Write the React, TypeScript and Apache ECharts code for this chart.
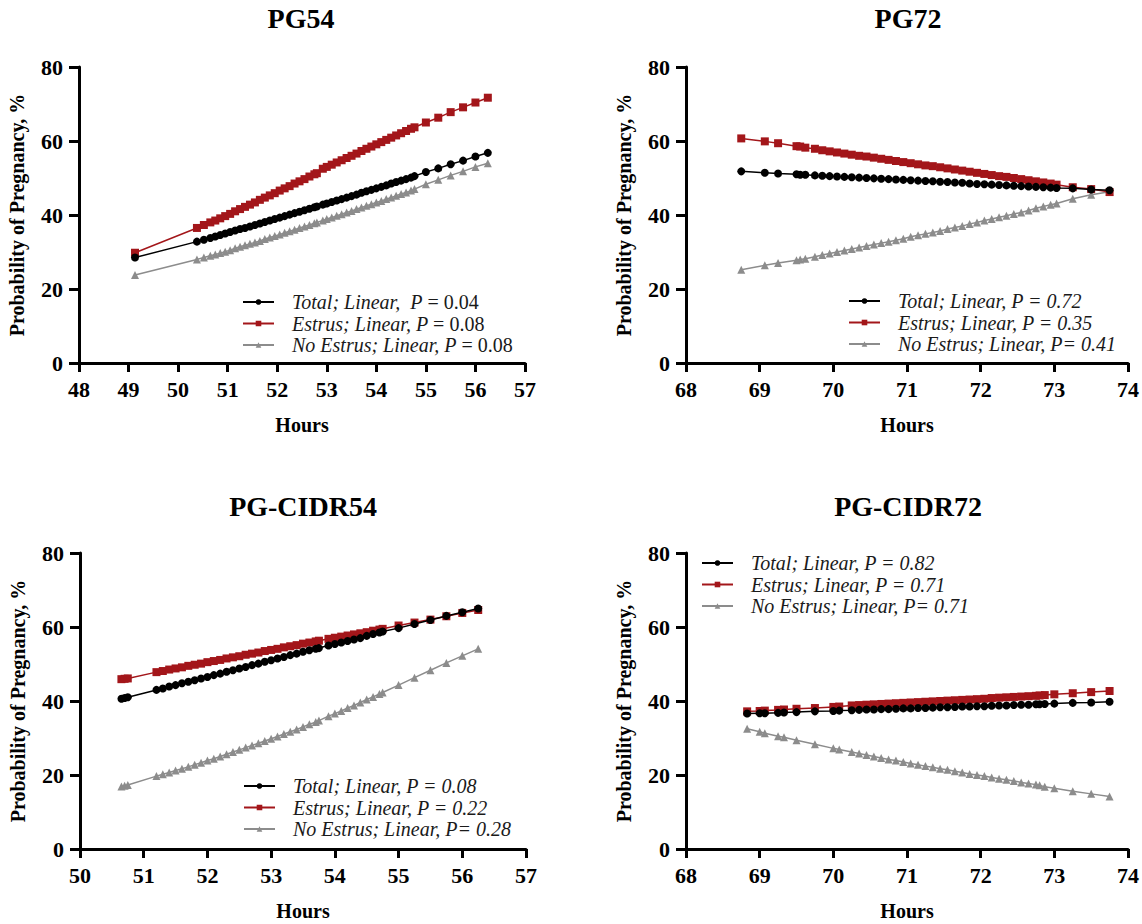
import React, { useEffect, useRef } from "react";
import * as echarts from "echarts";

// ---------- DATA ----------
const panelTitles = ["PG54", "PG72", "PG-CIDR54", "PG-CIDR72"];
const xRanges = [[48, 57], [68, 74], [50, 57], [68, 74]];
const yTicks = [0, 20, 40, 60, 80];

// PG54
const hoursPG54 = [49.13, 50.38, 50.52, 50.65, 50.75, 50.85, 50.95, 51.05, 51.15, 51.25, 51.35, 51.45, 51.55, 51.65, 51.75, 51.85, 51.95, 52.05, 52.15, 52.25, 52.35, 52.45, 52.55, 52.65, 52.75, 52.8, 52.92, 53.0, 53.1, 53.2, 53.3, 53.4, 53.5, 53.6, 53.7, 53.8, 53.9, 54.0, 54.1, 54.2, 54.3, 54.4, 54.5, 54.6, 54.7, 54.77, 55.0, 55.25, 55.5, 55.75, 56.0, 56.25];
const totalPG54 = [28.5, 32.8, 33.3, 33.8, 34.2, 34.6, 35.0, 35.4, 35.8, 36.2, 36.5, 36.9, 37.3, 37.7, 38.1, 38.5, 38.9, 39.3, 39.7, 40.1, 40.5, 40.9, 41.3, 41.7, 42.1, 42.3, 42.8, 43.1, 43.5, 43.9, 44.3, 44.7, 45.1, 45.5, 46.0, 46.4, 46.8, 47.2, 47.6, 48.0, 48.5, 48.9, 49.3, 49.7, 50.1, 50.5, 51.6, 52.6, 53.7, 54.7, 55.8, 56.8];
const estrusPG54 = [29.8, 36.5, 37.3, 38.0, 38.5, 39.1, 39.7, 40.3, 41.0, 41.6, 42.2, 42.8, 43.4, 44.1, 44.7, 45.3, 45.9, 46.6, 47.2, 47.8, 48.5, 49.1, 49.7, 50.4, 51.0, 51.3, 52.5, 53.0, 53.6, 54.2, 54.8, 55.4, 56.0, 56.6, 57.3, 57.9, 58.5, 59.1, 59.7, 60.3, 60.9, 61.5, 62.1, 62.7, 63.3, 63.7, 65.0, 66.3, 67.8, 69.1, 70.4, 71.7];
const noEstrusPG54 = [23.8, 28.0, 28.5, 29.0, 29.3, 29.7, 30.1, 30.5, 31.0, 31.4, 31.8, 32.2, 32.6, 33.0, 33.5, 33.9, 34.3, 34.7, 35.2, 35.6, 36.0, 36.5, 36.9, 37.3, 37.8, 38.0, 38.5, 38.9, 39.3, 39.8, 40.2, 40.7, 41.1, 41.6, 42.0, 42.5, 42.9, 43.4, 43.8, 44.3, 44.7, 45.2, 45.7, 46.1, 46.6, 47.0, 48.3, 49.5, 50.7, 51.8, 53.0, 54.0];

// PG72
const hoursPG72 = [68.75, 69.07, 69.25, 69.5, 69.55, 69.62, 69.75, 69.85, 69.95, 70.05, 70.15, 70.25, 70.35, 70.45, 70.55, 70.65, 70.75, 70.85, 70.95, 71.05, 71.15, 71.25, 71.35, 71.45, 71.55, 71.65, 71.75, 71.85, 71.95, 72.05, 72.15, 72.25, 72.35, 72.45, 72.55, 72.65, 72.75, 72.85, 72.95, 73.03, 73.25, 73.5, 73.75];
const totalPG72 = [51.8, 51.4, 51.2, 51.0, 50.9, 50.9, 50.7, 50.6, 50.5, 50.4, 50.3, 50.2, 50.1, 50.0, 49.9, 49.8, 49.7, 49.6, 49.5, 49.4, 49.3, 49.2, 49.1, 49.0, 48.9, 48.8, 48.7, 48.5, 48.4, 48.3, 48.2, 48.1, 48.0, 47.9, 47.8, 47.7, 47.6, 47.5, 47.4, 47.3, 47.2, 46.9, 46.7];
const estrusPG72 = [60.7, 59.9, 59.4, 58.6, 58.5, 58.2, 57.9, 57.5, 57.2, 56.9, 56.6, 56.3, 56.0, 55.8, 55.5, 55.2, 54.9, 54.6, 54.3, 54.0, 53.7, 53.4, 53.2, 52.9, 52.6, 52.3, 52.0, 51.7, 51.4, 51.1, 50.8, 50.5, 50.3, 50.0, 49.7, 49.4, 49.1, 48.8, 48.5, 48.2, 47.5, 47.0, 46.2];
const noEstrusPG72 = [25.2, 26.4, 27.0, 27.8, 28.0, 28.2, 28.7, 29.2, 29.6, 30.0, 30.4, 30.8, 31.2, 31.6, 32.0, 32.4, 32.8, 33.2, 33.6, 34.1, 34.5, 34.9, 35.3, 35.7, 36.2, 36.6, 37.0, 37.6, 38.0, 38.5, 38.9, 39.4, 39.8, 40.3, 40.7, 41.2, 41.8, 42.3, 42.8, 43.1, 44.4, 45.5, 46.3];

// PG-CIDR54
const hoursCIDR54 = [50.65, 50.7, 50.75, 51.2, 51.3, 51.4, 51.5, 51.6, 51.7, 51.8, 51.9, 52.0, 52.1, 52.2, 52.3, 52.4, 52.5, 52.6, 52.7, 52.8, 52.9, 53.0, 53.1, 53.2, 53.3, 53.4, 53.5, 53.6, 53.7, 53.75, 53.9, 54.0, 54.1, 54.2, 54.3, 54.4, 54.5, 54.6, 54.7, 54.75, 55.0, 55.25, 55.5, 55.75, 56.0, 56.25];
const totalCIDR54 = [40.6, 40.8, 41.0, 43.0, 43.4, 43.9, 44.3, 44.8, 45.2, 45.6, 46.1, 46.5, 47.0, 47.4, 47.9, 48.3, 48.8, 49.2, 49.7, 50.1, 50.6, 51.0, 51.5, 51.9, 52.4, 52.8, 53.3, 53.7, 54.1, 54.3, 55.0, 55.4, 55.8, 56.2, 56.6, 57.0, 57.6, 58.1, 58.5, 58.8, 59.7, 60.8, 61.9, 63.0, 64.0, 65.0];
const estrusCIDR54 = [45.9, 46.0, 46.1, 47.8, 48.1, 48.5, 48.8, 49.1, 49.5, 49.8, 50.1, 50.5, 50.8, 51.1, 51.5, 51.8, 52.1, 52.5, 52.8, 53.1, 53.5, 53.8, 54.1, 54.5, 54.8, 55.1, 55.5, 55.8, 56.1, 56.3, 56.8, 57.1, 57.4, 57.7, 58.0, 58.3, 58.6, 59.0, 59.3, 59.5, 60.4, 61.2, 62.0, 62.9, 63.8, 64.6];
const noEstrusCIDR54 = [16.9, 17.1, 17.3, 19.7, 20.2, 20.7, 21.2, 21.7, 22.2, 22.8, 23.3, 23.9, 24.4, 25.0, 25.6, 26.2, 26.8, 27.4, 28.0, 28.6, 29.2, 29.8, 30.4, 31.1, 31.7, 32.3, 33.0, 33.7, 34.3, 34.7, 35.9, 36.6, 37.3, 38.1, 38.8, 39.6, 40.4, 41.1, 41.9, 42.3, 44.3, 46.3, 48.3, 50.3, 52.2, 54.1];

// PG-CIDR72
const hoursCIDR72 = [68.83, 69.0, 69.07, 69.25, 69.33, 69.5, 69.75, 70.0, 70.08, 70.25, 70.35, 70.45, 70.55, 70.65, 70.75, 70.85, 70.95, 71.05, 71.15, 71.25, 71.35, 71.45, 71.55, 71.65, 71.75, 71.85, 71.95, 72.05, 72.15, 72.25, 72.35, 72.45, 72.55, 72.65, 72.75, 72.8, 72.87, 73.0, 73.25, 73.5, 73.75];
const totalCIDR72 = [36.6, 36.7, 36.7, 36.8, 36.9, 37.0, 37.2, 37.3, 37.4, 37.5, 37.6, 37.7, 37.7, 37.8, 37.8, 37.9, 38.0, 38.0, 38.1, 38.1, 38.2, 38.3, 38.3, 38.4, 38.5, 38.5, 38.6, 38.6, 38.7, 38.8, 38.8, 38.9, 39.0, 39.0, 39.1, 39.1, 39.2, 39.3, 39.5, 39.6, 39.8];
const estrusCIDR72 = [37.2, 37.3, 37.4, 37.6, 37.7, 37.9, 38.1, 38.4, 38.5, 38.8, 38.9, 39.0, 39.1, 39.2, 39.3, 39.4, 39.5, 39.6, 39.7, 39.8, 39.9, 40.0, 40.1, 40.2, 40.3, 40.4, 40.5, 40.6, 40.8, 40.9, 41.0, 41.1, 41.2, 41.3, 41.4, 41.5, 41.6, 41.8, 42.1, 42.4, 42.7];
const noEstrusCIDR72 = [32.5, 31.7, 31.3, 30.5, 30.2, 29.4, 28.3, 27.2, 26.9, 26.2, 25.8, 25.4, 25.0, 24.6, 24.2, 23.9, 23.5, 23.1, 22.8, 22.4, 22.1, 21.7, 21.4, 21.0, 20.7, 20.3, 20.0, 19.7, 19.3, 19.0, 18.7, 18.4, 18.0, 17.7, 17.4, 17.2, 16.8, 16.4, 15.6, 14.9, 14.2];

// legend labels: [italic part, upright part]
const legendTotal = [["Total; Linear,  P", " = 0.04"], ["Total; Linear, P = 0.72", ""], ["Total; Linear, P = 0.08", ""], ["Total; Linear, P = 0.82", ""]];
const legendEstrus = [["Estrus; Linear, P", " = 0.08"], ["Estrus; Linear, P = 0.35", ""], ["Estrus; Linear, P = 0.22", ""], ["Estrus; Linear, P = 0.71", ""]];
const legendNoEstrus = [["No Estrus; Linear, P", " = 0.08"], ["No Estrus; Linear, P= 0.41", ""], ["No Estrus; Linear, P= 0.28", ""], ["No Estrus; Linear, P= 0.71", ""]];

const panelHours = [hoursPG54, hoursPG72, hoursCIDR54, hoursCIDR72];
const panelTotal = [totalPG54, totalPG72, totalCIDR54, totalCIDR72];
const panelEstrus = [estrusPG54, estrusPG72, estrusCIDR54, estrusCIDR72];
const panelNoEstrus = [noEstrusPG54, noEstrusPG72, noEstrusCIDR54, noEstrusCIDR72];

// ---------- LAYOUT ----------
const grids = [
  { left: 79, top: 67, width: 446, height: 296 },
  { left: 686, top: 67, width: 445, height: 296 },
  { left: 80, top: 553, width: 446, height: 296 },
  { left: 686, top: 553, width: 445, height: 296 },
];
const legendPos = [
  { left: 242, top: 292 },
  { left: 848, top: 291 },
  { left: 243, top: 776 },
  { left: 701, top: 553 },
];
const titleCenters = [[301, 18], [908, 18], [303, 506], [908, 506]];

const BLACK = "#000000";
const RED = "#a3161a";
const GRAY = "#8c8c8c";
const SERIF = "Liberation Serif";

export default function App() {
  const ref = useRef<HTMLDivElement>(null);
  useEffect(() => {
    if (!ref.current) return;
    const chart = echarts.init(ref.current, null, { renderer: "svg" });

    const xAxis: any[] = [];
    const yAxis: any[] = [];
    const series: any[] = [];
    const legend: any[] = [];
    const graphic: any[] = [];

    const labelMap: Record<string, string[]> = {};

    for (let p = 0; p < 4; p++) {
      xAxis.push({
        type: "value",
        gridIndex: p,
        min: xRanges[p][0],
        max: xRanges[p][1],
        interval: 1,
        name: "Hours",
        nameLocation: "middle",
        nameGap: 52,
        nameTextStyle: { fontFamily: SERIF, fontWeight: "bold", fontSize: 20, color: "#000" },
        axisLine: { show: true, onZero: false, lineStyle: { color: "#000", width: 3 } },
        axisTick: { show: true, inside: false, length: 9, lineStyle: { color: "#000", width: 3 } },
        axisLabel: { show: true, showMinLabel: true, showMaxLabel: true, margin: 15, fontFamily: SERIF, fontWeight: "bold", fontSize: 22, color: "#000" },
        splitLine: { show: false },
      });
      yAxis.push({
        type: "value",
        gridIndex: p,
        min: yTicks[0],
        max: yTicks[yTicks.length - 1],
        interval: 20,
        name: "Probability of Pregnancy, %",
        nameLocation: "middle",
        nameGap: 52,
        nameTextStyle: { fontFamily: SERIF, fontWeight: "bold", fontSize: 20, color: "#000" },
        axisLine: { show: true, onZero: false, lineStyle: { color: "#000", width: 3 } },
        axisTick: { show: true, inside: false, length: 10, lineStyle: { color: "#000", width: 3 } },
        axisLabel: { show: true, margin: 16, fontFamily: SERIF, fontWeight: "bold", fontSize: 22, color: "#000" },
        splitLine: { show: false },
      });

      const names = [legendTotal[p], legendEstrus[p], legendNoEstrus[p]].map((l) => l[0] + l[1]);
      [legendTotal[p], legendEstrus[p], legendNoEstrus[p]].forEach((l) => {
        labelMap[l[0] + l[1]] = l;
      });
      const hrs = panelHours[p];
      const defs = [
        { name: names[2], vals: panelNoEstrus[p], color: GRAY, symbol: "triangle", size: 8, z: 2 },
        { name: names[1], vals: panelEstrus[p], color: RED, symbol: "rect", size: 8, z: 3 },
        { name: names[0], vals: panelTotal[p], color: BLACK, symbol: "circle", size: 8, z: 4 },
      ];
      defs.forEach((d) => {
        series.push({
          type: "line",
          name: d.name,
          xAxisIndex: p,
          yAxisIndex: p,
          data: hrs.map((h, i) => [h, d.vals[i]]),
          symbol: d.symbol,
          symbolSize: d.size,
          showSymbol: true,
          showAllSymbol: true,
          color: d.color,
          lineStyle: { color: d.color, width: 1.5 },
          itemStyle: { color: d.color },
          z: d.z,
          emphasis: { disabled: true },
        });
      });

      legend.push({
        data: names,
        orient: "vertical",
        left: legendPos[p].left,
        top: legendPos[p].top,
        padding: 0,
        itemWidth: 31,
        itemHeight: 7,
        itemGap: 1.5,
        selectedMode: false,
        formatter: (name: string) => {
          const l = labelMap[name];
          if (!l) return name;
          return l[1] ? `{it|${l[0]}}{up|${l[1]}}` : `{it|${l[0]}}`;
        },
        textStyle: {
          fontFamily: SERIF,
          fontSize: 20,
          color: "#1a1a1a",
          lineHeight: 20,
          rich: {
            it: { fontFamily: SERIF, fontSize: 20, fontStyle: "italic", color: "#1a1a1a", padding: [0, 0, 0, 13], lineHeight: 20 },
            up: { fontFamily: SERIF, fontSize: 20, fontStyle: "normal", color: "#1a1a1a", lineHeight: 20 },
          },
        },
      });

      graphic.push({
        type: "text",
        x: titleCenters[p][0],
        y: titleCenters[p][1],
        style: {
          text: panelTitles[p],
          fontFamily: SERIF,
          fontWeight: "bold",
          fontSize: 28,
          fill: "#000",
          align: "center",
          verticalAlign: "middle",
        },
      });
    }

    chart.setOption({
      animation: false,
      backgroundColor: "#ffffff",
      grid: grids.map((g) => ({ ...g, containLabel: false })),
      xAxis,
      yAxis,
      legend,
      series,
      graphic,
    });
    return () => chart.dispose();
  }, []);

  return (
    <div
      ref={ref}
      style={{ position: "fixed", left: 0, top: 0, width: 1142, height: 924, background: "#fff" }}
    />
  );
}
